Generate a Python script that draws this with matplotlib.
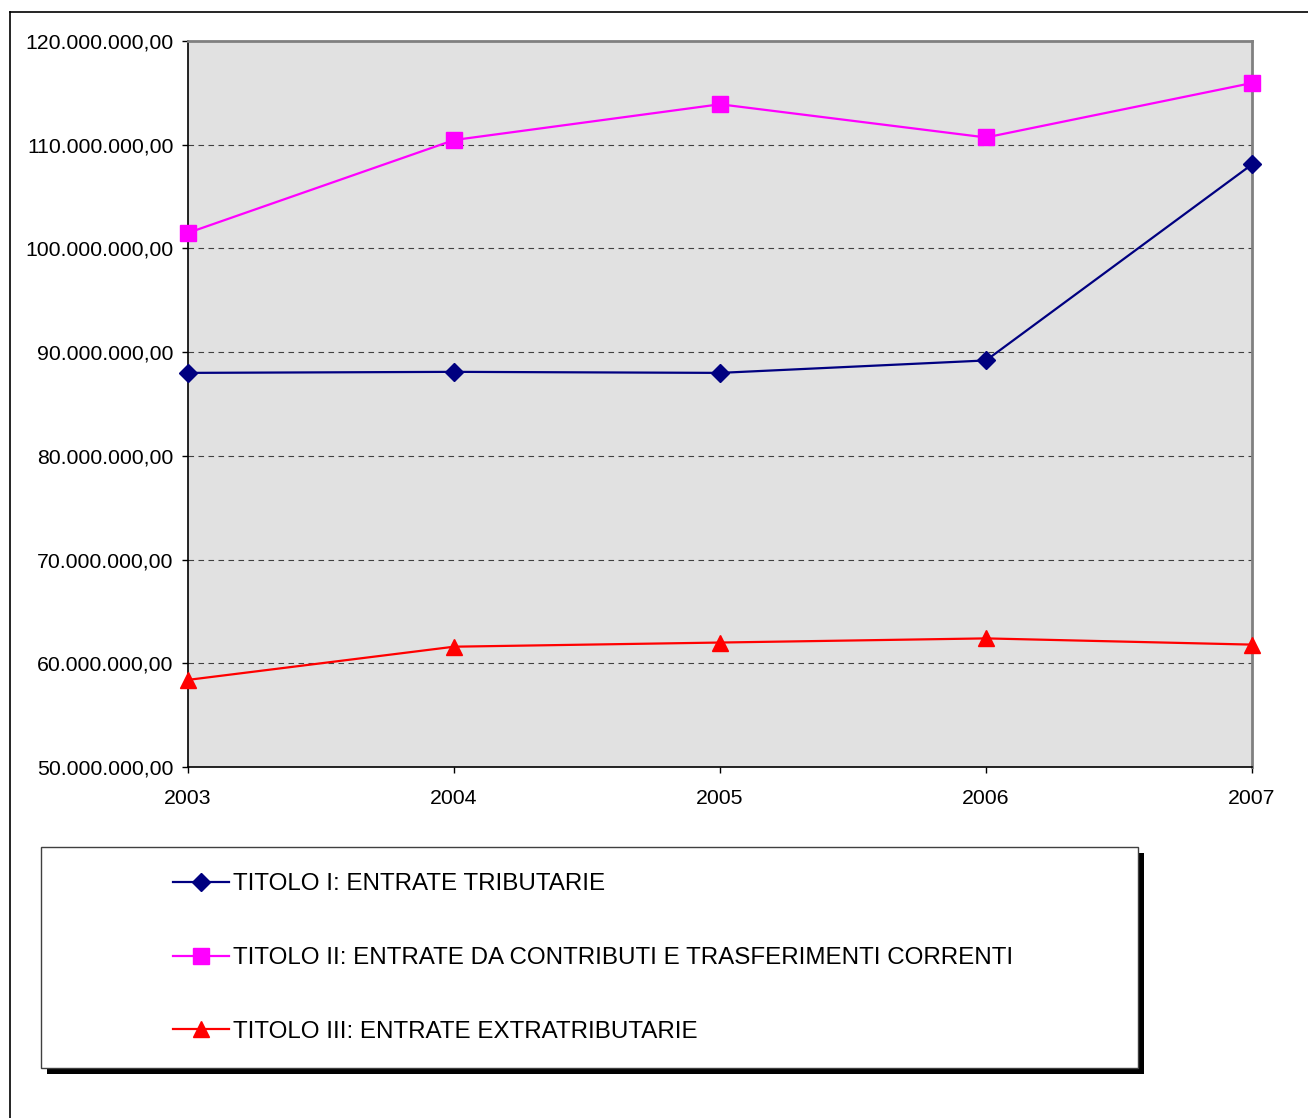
import matplotlib.pyplot as plt
from matplotlib.ticker import FuncFormatter, MultipleLocator
from matplotlib.patches import Rectangle
from matplotlib.lines import Line2D

plt.rcParams['font.family'] = ['Liberation Sans', 'DejaVu Sans']

# ---- data ----
years = [2003, 2004, 2005, 2006, 2007]
titolo_1 = [88_000_000, 88_100_000, 88_000_000, 89_200_000, 108_100_000]
titolo_2 = [101_500_000, 110_450_000, 113_900_000, 110_700_000, 115_950_000]
titolo_3 = [58_400_000, 61_600_000, 62_000_000, 62_400_000, 61_800_000]
labels = ["TITOLO I: ENTRATE TRIBUTARIE",
          "TITOLO II: ENTRATE DA CONTRIBUTI E TRASFERIMENTI CORRENTI",
          "TITOLO III: ENTRATE EXTRATRIBUTARIE"]

W, H = 1308, 1118
fig = plt.figure(figsize=(W / 100, H / 100), dpi=100)


def fx(px):
    return px / W


def fy(py):
    return 1 - py / H


# outer frame (only left and top visible)
fig.add_artist(Line2D([fx(10), fx(10)], [fy(12), 0], color='black', lw=1.2))
fig.add_artist(Line2D([fx(10), 1], [fy(12), fy(12)], color='black', lw=1.2))

ax = fig.add_axes([fx(188), fy(767), fx(1252) - fx(188), fy(41) - fy(767)])
ax.set_facecolor('#e1e1e1')

ax.plot(years, titolo_1, color='#000080', lw=1.6, marker='D', ms=9,
        label=labels[0], clip_on=False, zorder=3)
ax.plot(years, titolo_2, color='#ff00ff', lw=1.6, marker='s', ms=11,
        label=labels[1], clip_on=False, zorder=3)
ax.plot(years, titolo_3, color='#ff0000', lw=1.6, marker='^', ms=11,
        label=labels[2], clip_on=False, zorder=3)

ax.set_xlim(2003, 2007)
ax.set_ylim(50_000_000, 120_000_000)
ax.set_xticks(years)
ax.set_xticklabels([str(y) for y in years])
ax.yaxis.set_major_locator(MultipleLocator(10_000_000))
ax.yaxis.set_major_formatter(FuncFormatter(
    lambda v, p: f"{v:,.2f}".replace(',', 'X').replace('.', ',').replace('X', '.')))

for v in range(60_000_000, 120_000_000, 10_000_000):
    ax.axhline(v, color='#404040', lw=0.8, ls=(0, (5, 4)), zorder=1)

for s in ['top', 'right']:
    ax.spines[s].set_color('#808080')
    ax.spines[s].set_linewidth(2)
for s in ['left', 'bottom']:
    ax.spines[s].set_color('black')
    ax.spines[s].set_linewidth(1.2)

ax.tick_params(axis='both', direction='out', length=4.5, width=1, labelsize=15.3, colors='black')
ax.tick_params(axis='y', pad=6)
ax.tick_params(axis='x', pad=11)

# legend box with shadow
fig.add_artist(Rectangle((fx(47), fy(1074)), fx(1097), fy(0) - fy(221),
                         transform=fig.transFigure, facecolor='black', edgecolor='none'))
fig.add_artist(Rectangle((fx(41), fy(1068)), fx(1097), fy(0) - fy(221),
                         transform=fig.transFigure, facecolor='white',
                         edgecolor='#404040', lw=1))

handles, lab = ax.get_legend_handles_labels()
leg = fig.legend(handles, lab, loc='center left',
                 bbox_to_anchor=(fx(173), fy(958)), frameon=False,
                 fontsize=17.4, handlelength=2.3, handletextpad=0.2,
                 labelspacing=2.14, borderpad=0, borderaxespad=0)

fig.savefig('out.png', dpi=100)
